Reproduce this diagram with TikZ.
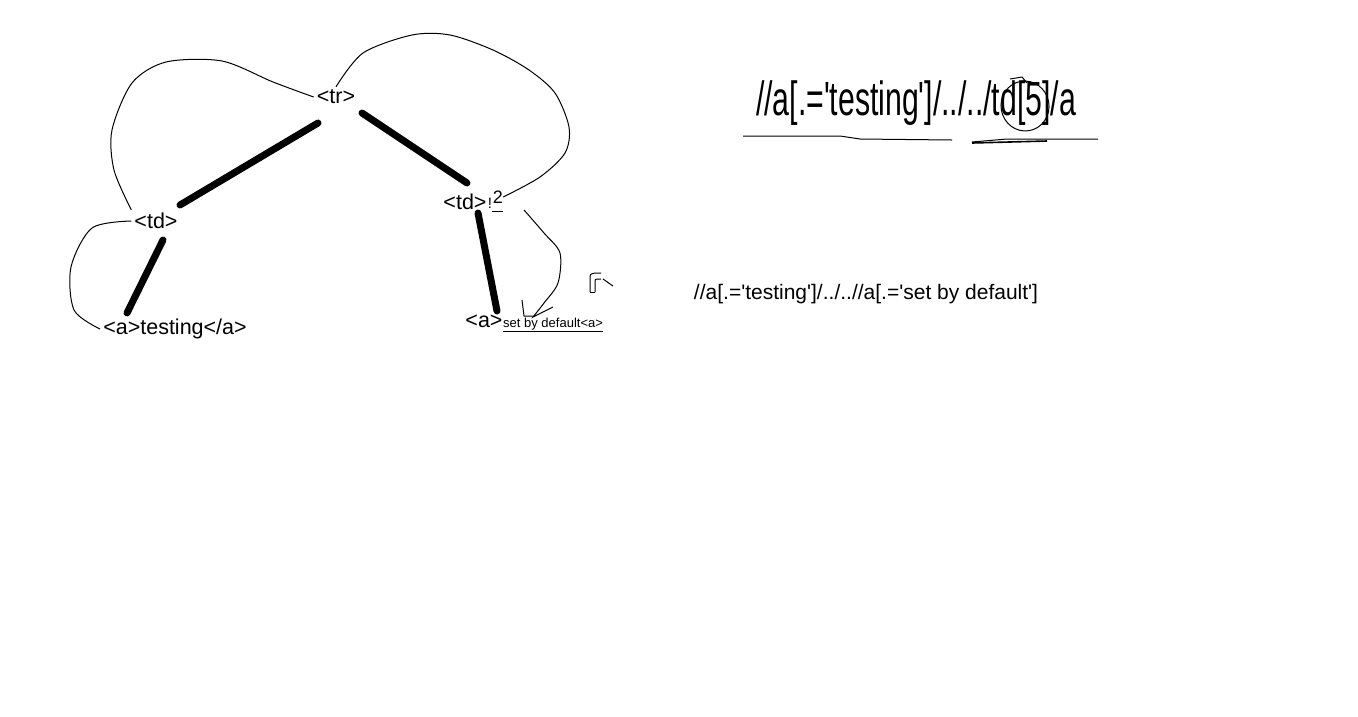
\documentclass[tikz,border=0pt]{standalone}
\usepackage{fontspec}
\setmainfont{Liberation Sans}[Ligatures=TeXOff]
\begin{document}
\begin{tikzpicture}[x=1pt,y=-1pt,
    tag/.style={font=\fontsize{21.5}{25}\selectfont,inner sep=3pt},
    branch/.style={line width=7pt,line cap=round},
    scribble/.style={line width=1pt}]
  \useasboundingbox[fill=white] (0,0) rectangle (1358,716);
  \node[tag] (tr) at (336,97) {<tr>};
  \node[tag] (tdL) at (156,221) {<td>};
  \node[tag] (aL) at (175,329) {<a>testing</a>};
  \node[tag] (tdR) at (465,202) {<td>};
  \node[font=\fontsize{15}{18}\selectfont,inner sep=0pt] (excl) at (490,203) {!};
  \node[font=\fontsize{18}{22}\selectfont,inner sep=0pt] (two) at (498,197) {2};
  \node[tag] (aR) at (484,321) {<a>};
  \node[font=\fontsize{13}{16}\selectfont,inner sep=0pt,anchor=west] (dflt) at (503,325) {\underline{set by default<a>}};
  \node[font=\fontsize{21}{25}\selectfont,inner sep=0pt] (query) at (866,294) {//a[.='testing']/../..//a[.='set by default']};
  \node[font=\fontsize{48}{56}\selectfont,inner sep=0pt] (headline) at (916,103) {\scalebox{0.63}[1]{//a[.='testing']/../../td[5]/a}};
  \draw[branch] ([shift={(-18,26)}]tr.center) -- ([shift={(24,-16)}]tdL.center);
  \draw[branch] ([shift={(26,16)}]tr.center) -- ([shift={(2,-19)}]tdR.center);
  \draw[branch] ([shift={(7,19)}]tdL.center) -- ([shift={(-48,-16)}]aL.center);
  \draw[branch] ([shift={(13,11)}]tdR.center) -- ([shift={(13,-10)}]aR.center);
  \draw[scribble] plot[smooth] coordinates {(tr.west) (273,82) (222,61) (166,62) (132,83) (112,130) (114,170) (tdL.north west)};
  \draw[scribble] plot[smooth] coordinates {(tdL.west) (92,228) (71,267) (74,310) (aL.west)};
  \draw[scribble] plot[smooth] coordinates {(tr.north) (363,53) (412,35) (450,35) (493,50) (529,70) (555,93) (569,127) (565,153) (540,177) (two.east)};
  \draw[scribble] plot[smooth] coordinates {(524,210) (544,233) (560,253) (558,283) (544,303) (533,317)} -- (553,307);
  \draw[scribble] (492,211) -- (503,211);
  \draw[scribble] (522,300) -- (524,316) -- (535,316);
  \draw[scribble] (590,292) -- (590,279) .. controls (590,274) .. (595,273) -- (601,273);
  \draw[scribble] (595,292) -- (595,282) .. controls (595,279) .. (598,279) -- (601,279);
  \draw[scribble] (590,292) -- (595,292);
  \draw[scribble] (603,279) -- (613,286);
  \draw[scribble] (743,136) -- (840,136) -- (860,139) -- (952,140);
  \draw[scribble] (972,142) -- (1007,139) -- (1047,139) -- (1098,139);
  \draw[line width=1.6pt] (972,143) -- (1047,141);
  \draw[scribble,rotate around={10:(1025,106)}] (1025,106) ellipse (24pt and 25pt);
  \draw[scribble] (1010,79) -- (1022,77) -- (1027,83);
\end{tikzpicture}
\end{document}
